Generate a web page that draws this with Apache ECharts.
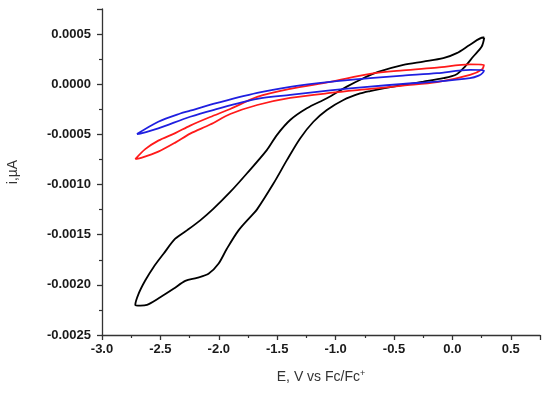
<!DOCTYPE html>
<html>
<head>
<meta charset="utf-8">
<script src="https://cdn.jsdelivr.net/npm/echarts@6/dist/echarts.min.js"></script>
<style>
html,body{margin:0;padding:0;background:#fff;}
#chart{width:550px;height:397px;}
</style>
</head>
<body>
<div id="chart"></div>
<script>
// Black loop: potential (V vs Fc/Fc+) and current
var blackE = [0.273, 0.251, 0.179, 0.108, 0.037, -0.078, -0.249, -0.42, -0.591, -0.705, -0.79, -0.933, -1.075, -1.19, -1.304, -1.417, -1.532, -1.674, -1.731, -1.831, -1.931, -2.003, -2.088, -2.187, -2.287, -2.388, -2.501, -2.615, -2.672, -2.715, -2.687, -2.63, -2.559, -2.473, -2.373, -2.273, -2.159, -2.045, -1.902, -1.76, -1.589, -1.503, -1.389, -1.246, -1.075, -0.904, -0.762, -0.636, -0.42, -0.249, -0.078, 0.037, 0.151, 0.264, 0.273];
var blackI = [0.000466, 0.000376, 0.000276, 0.000176, 0.0001, 0.00006, 0.000026, -0.000007, -0.000042, -0.000068, -0.000092, -0.000157, -0.000257, -0.000374, -0.00054, -0.000757, -0.00099, -0.00125, -0.001324, -0.001457, -0.00164, -0.00179, -0.00189, -0.00193, -0.00196, -0.00204, -0.002124, -0.0022, -0.002207, -0.0022, -0.00209, -0.001957, -0.001824, -0.00169, -0.00154, -0.001457, -0.001357, -0.00124, -0.001074, -0.00089, -0.000657, -0.000507, -0.000357, -0.00024, -0.00014, -0.000024, 0.00006, 0.000123, 0.000193, 0.000226, 0.00026, 0.00031, 0.000393, 0.000466, 0.000466];

// Red loop
var redE = [-2.715, -2.63, -2.518, -2.373, -2.245, -2.074, -1.902, -1.671, -1.389, -1.047, -0.705, -0.423, -0.132, 0.151, 0.27, 0.255, 0.151, -0.132, -0.423, -0.705, -1.047, -1.389, -1.671, -1.902, -2.074, -2.245, -2.373, -2.518, -2.658, -2.715];
var redI = [-0.000747, -0.000647, -0.000562, -0.000487, -0.000412, -0.000327, -0.000247, -0.000127, -0.000047, 0.000023, 0.000103, 0.000138, 0.000166, 0.000198, 0.000195, 0.00015, 0.000093, 0.00002, -0.000014, -0.000047, -0.000087, -0.000137, -0.000207, -0.000297, -0.000402, -0.000492, -0.000582, -0.000672, -0.000732, -0.000747];

// Blue loop
var blueE = [-2.701, -2.518, -2.33, -2.245, -2.048, -1.671, -1.389, -1.047, -0.705, -0.423, -0.132, 0.151, 0.27, 0.258, 0.225, 0.151, -0.132, -0.423, -0.705, -1.047, -1.389, -1.671, -2.048, -2.245, -2.518, -2.672, -2.701];
var blueI = [-0.000497, -0.000374, -0.000292, -0.000264, -0.000197, -0.000087, -0.000027, 0.000023, 0.00006, 0.000086, 0.00011, 0.000143, 0.00014, 0.000112, 0.000085, 0.00006, 0.000026, 0.000003, -0.000024, -0.000062, -0.000107, -0.000147, -0.000257, -0.000324, -0.00044, -0.000492, -0.000497];

var xName = 'E, V vs Fc/Fc';
var xNameSup = '+';
var yName = 'i,\u00b5A';

function pairs(xs, ys) {
  var out = [];
  for (var i = 0; i < xs.length; i++) out.push([xs[i], ys[i]]);
  return out;
}

var chart = echarts.init(document.getElementById('chart'), null, {renderer: 'canvas'});
var labelStyle = {color: '#1a1a1a', fontWeight: 'bold', fontSize: 13, fontFamily: 'Liberation Sans, Arial, sans-serif'};
function lineSeries(name, data, color) {
  return {
    name: name, type: 'line', data: data, showSymbol: false, symbol: 'none',
    smooth: 0.3, lineStyle: {color: color, width: 1.8}, silent: true, animation: false
  };
}
chart.setOption({
  animation: false,
  backgroundColor: '#fff',
  grid: {left: 102, right: 10, top: 9, bottom: 62, containLabel: false, outerBoundsMode: 'none'},
  xAxis: {
    type: 'value', min: -3, max: 0.75, interval: 0.5,
    name: '{a|' + xName + '}{s|' + xNameSup + '}',
    nameLocation: 'middle', nameGap: 34,
    nameTextStyle: {
      rich: {
        a: {fontSize: 14, color: '#333', fontFamily: 'Liberation Sans, Arial, sans-serif'},
        s: {fontSize: 9, color: '#333', fontFamily: 'Liberation Sans, Arial, sans-serif', padding: [0, 0, 7, 0]}
      }
    },
    axisLine: {show: true, onZero: false, lineStyle: {color: '#333', width: 1.3}},
    axisTick: {show: true, inside: false, length: 5, lineStyle: {color: '#333', width: 1.3}},
    minorTick: {show: true, splitNumber: 2, length: 3, lineStyle: {color: '#333', width: 1.2}},
    splitLine: {show: false},
    axisLabel: Object.assign({margin: 8, formatter: function (v) { return v.toFixed(1); }, showMaxLabel: false}, labelStyle)
  },
  yAxis: {
    type: 'value', min: -0.0025, max: 0.00075, interval: 0.0005,
    name: yName, nameLocation: 'middle', nameGap: 82,
    nameTextStyle: {fontSize: 14, color: '#333', fontFamily: 'Liberation Sans, Arial, sans-serif'},
    axisLine: {show: true, onZero: false, lineStyle: {color: '#333', width: 1.3}},
    axisTick: {show: true, inside: false, length: 5, lineStyle: {color: '#333', width: 1.3}},
    minorTick: {show: true, splitNumber: 2, length: 3, lineStyle: {color: '#333', width: 1.2}},
    splitLine: {show: false},
    axisLabel: Object.assign({margin: 11, formatter: function (v) { return v.toFixed(4); }, showMaxLabel: false}, labelStyle)
  },
  series: [
    lineSeries('black', pairs(blackE, blackI), '#000000'),
    lineSeries('red', pairs(redE, redI), '#ff1a1a'),
    lineSeries('blue', pairs(blueE, blueI), '#1f1fe0')
  ]
});
</script>
</body>
</html>
